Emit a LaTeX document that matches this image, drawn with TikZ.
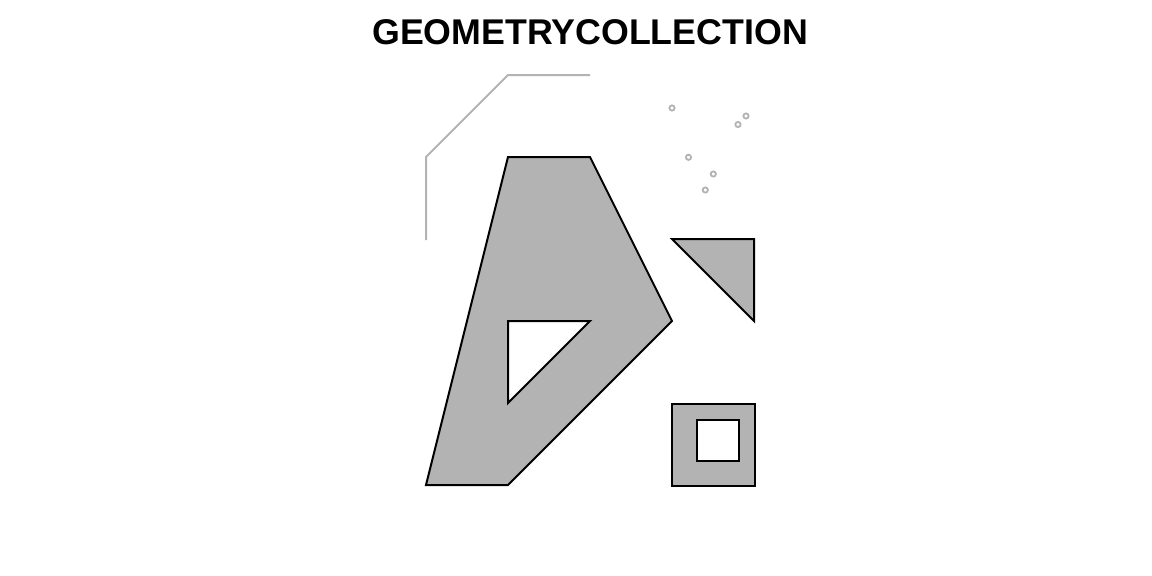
\documentclass[tikz,border=0pt]{standalone}
\usepackage{fontspec}
\setmainfont{Liberation Sans}
\definecolor{polyfill}{HTML}{B3B3B3}
\definecolor{linegray}{HTML}{B3B3B3}
\begin{document}
\begin{tikzpicture}[x=1pt,y=-1pt,
  poly/.style={draw=black,fill=polyfill,line width=2pt,even odd rule,line join=miter},
  gline/.style={draw=linegray,line width=2pt},
  gpt/.style={draw=linegray,line width=1.8pt,fill=white}]
\useasboundingbox (0,0) rectangle (1152,576);
\node[anchor=base,font=\fontsize{35.75}{40}\selectfont\bfseries,inner sep=0pt] (title) at (590,44) {GEOMETRYCOLLECTION};
% linestring
\coordinate (l1) at (426,240);
\coordinate (l2) at (426,157);
\coordinate (l3) at (508,75);
\coordinate (l4) at (590,75);
\draw[gline] (l1) -- (l2) -- (l3) -- (l4);
% points
\foreach \px/\py [count=\i] in {672/108, 746/116, 738/124.5, 688.5/157.3, 713.3/174, 705.3/190}
  \draw[gpt] (\px,\py) coordinate (p\i) circle (2.6);
% big polygon with hole
\path[poly] (508,157) -- (590,157) -- (672,321) -- (508,485) -- (426,485) -- cycle
  (508,321) -- (590,321) -- (508,403) -- cycle;
% triangle
\path[poly] (672,239) -- (754,239) -- (754,321) -- cycle;
% square with hole
\path[poly] (672,403.5) rectangle (754.5,485.5)
  (697,420) rectangle (738.5,461);
\end{tikzpicture}
\end{document}
